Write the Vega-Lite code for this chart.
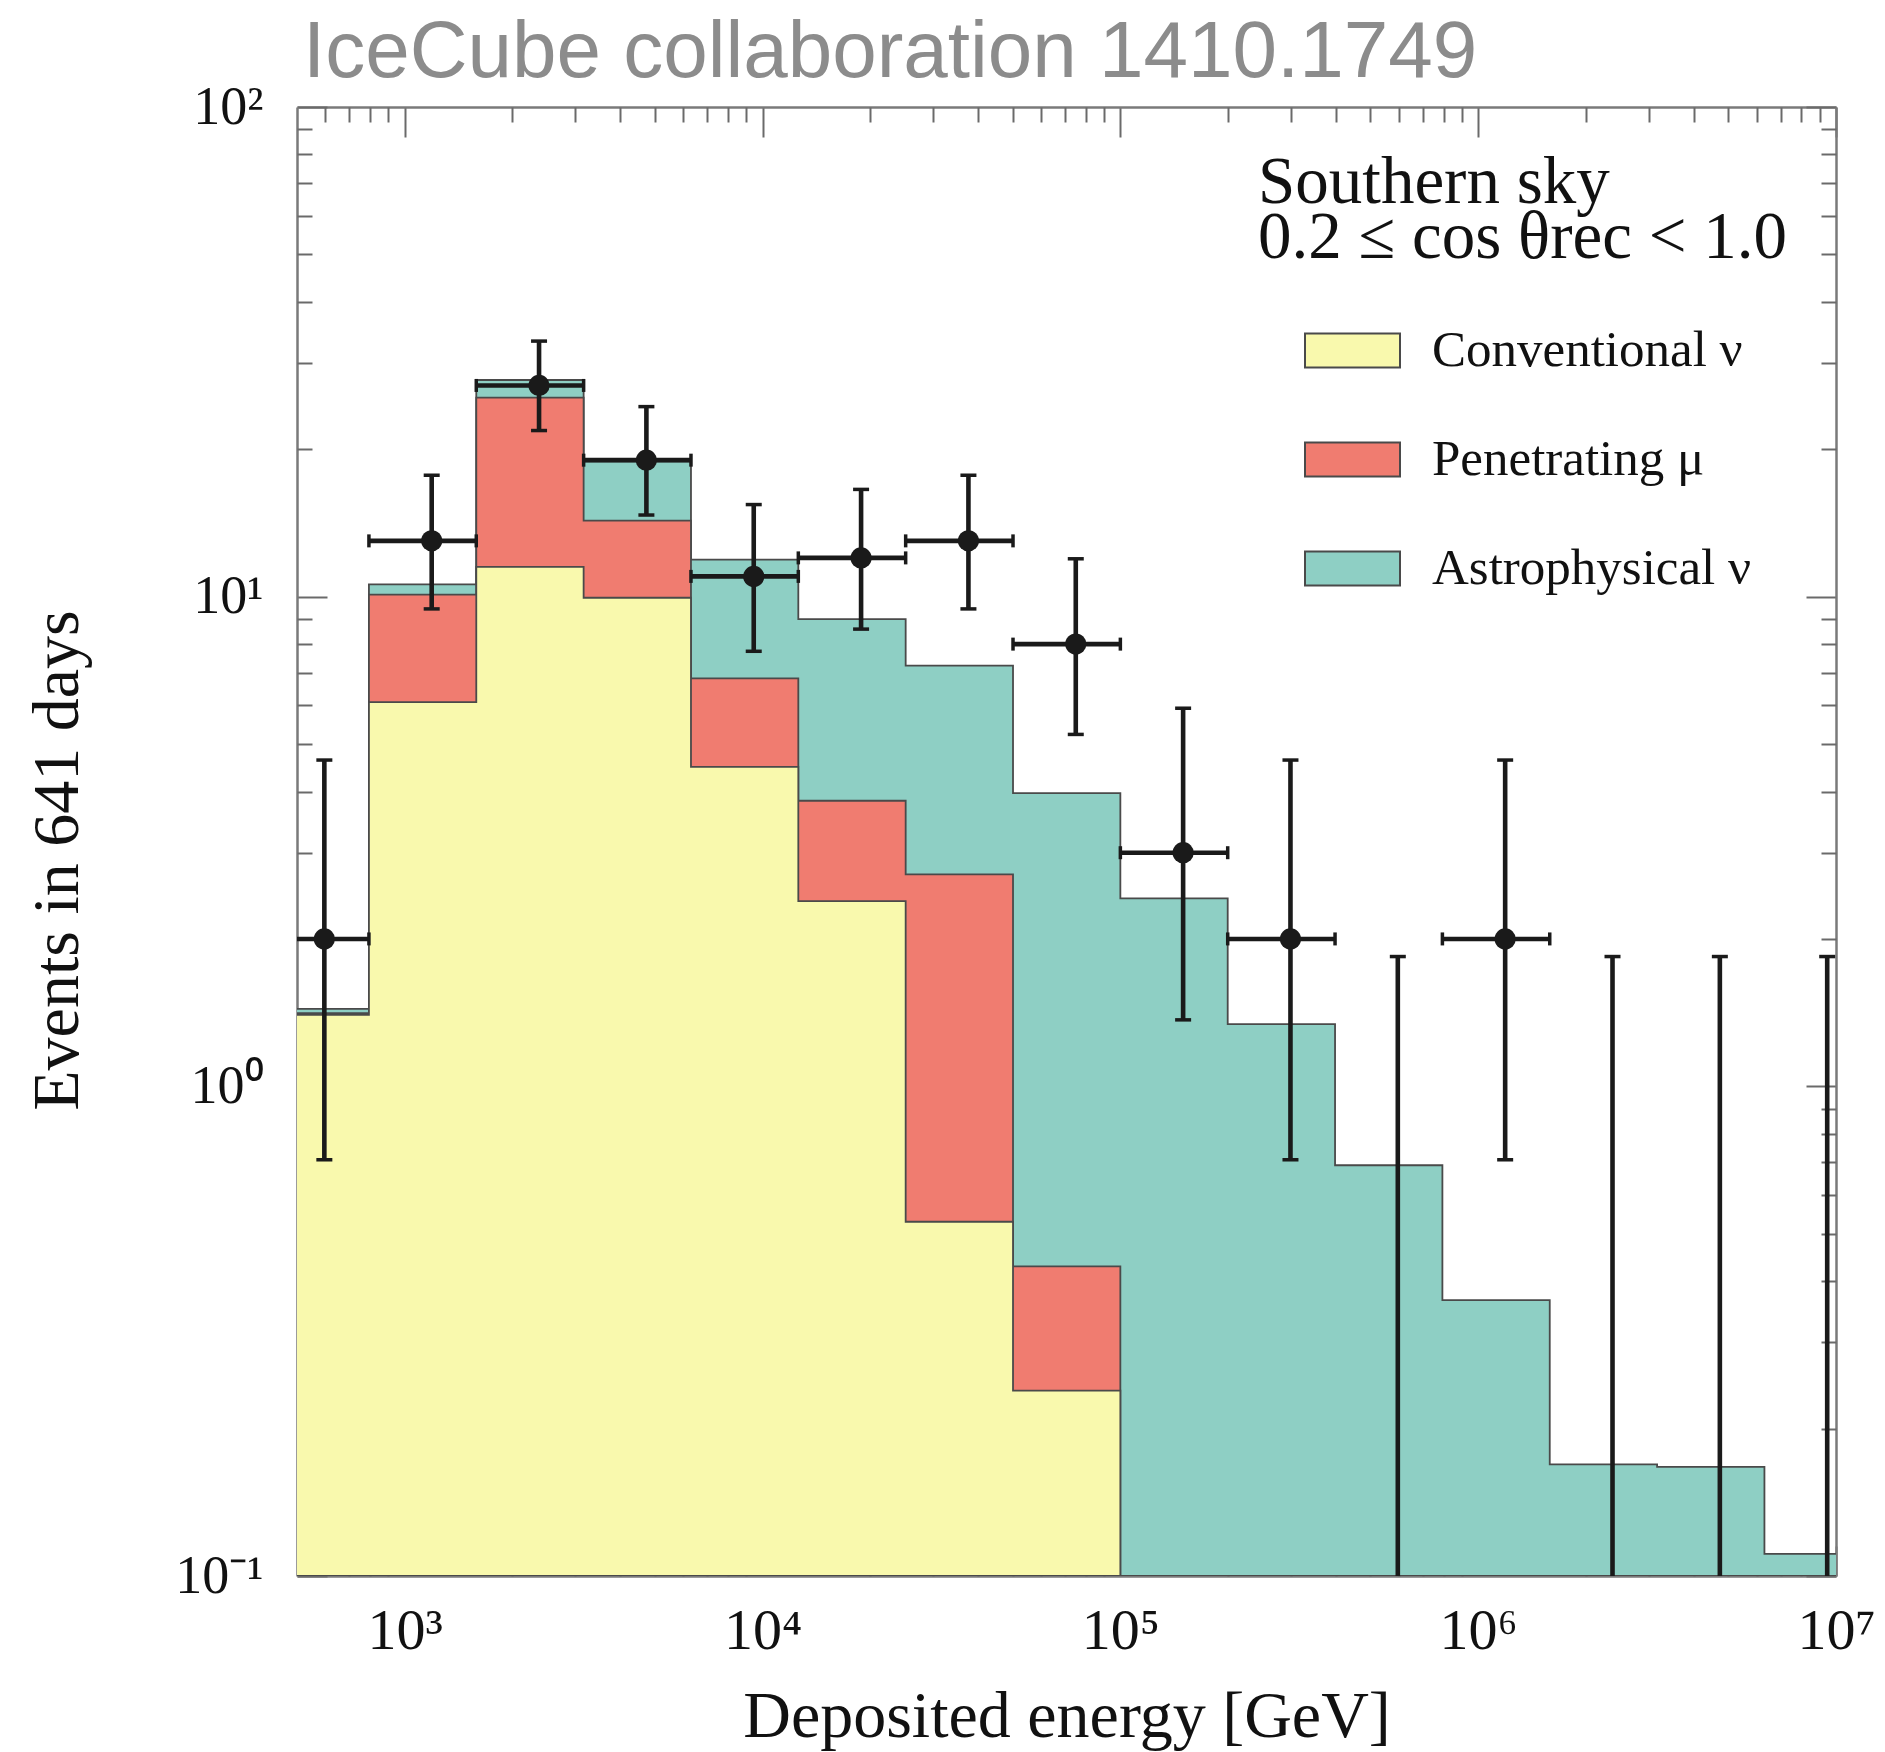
{
  "$schema": "https://vega.github.io/schema/vega-lite/v6.json",
  "autosize": {"type": "none"},
  "width": 1539,
  "height": 1469,
  "padding": {"left": 297, "top": 107, "right": 49, "bottom": 176},
  "background": "white",
  "title": {"text": "IceCube collaboration 1410.1749", "anchor": "start", "frame": "group", "font": "Liberation Sans", "fontSize": 80, "fontWeight": "normal", "color": "#8c8c8c", "baseline": "alphabetic", "offset": -77, "dx": 6},
  "datasets": {
    "hist": [
      {"E": 398.1, "series": "Astrophysical ν", "top": 1.44},
      {"E": 794.3, "series": "Astrophysical ν", "top": 10.6},
      {"E": 1584.9, "series": "Astrophysical ν", "top": 27.7},
      {"E": 3162.3, "series": "Astrophysical ν", "top": 18.9},
      {"E": 6309.6, "series": "Astrophysical ν", "top": 11.9},
      {"E": 12589, "series": "Astrophysical ν", "top": 9.0},
      {"E": 25119, "series": "Astrophysical ν", "top": 7.23},
      {"E": 50119, "series": "Astrophysical ν", "top": 3.97},
      {"E": 100000, "series": "Astrophysical ν", "top": 2.42},
      {"E": 199526, "series": "Astrophysical ν", "top": 1.34},
      {"E": 398107, "series": "Astrophysical ν", "top": 0.69},
      {"E": 794328, "series": "Astrophysical ν", "top": 0.366},
      {"E": 1584893, "series": "Astrophysical ν", "top": 0.169},
      {"E": 3162278, "series": "Astrophysical ν", "top": 0.167},
      {"E": 6309573, "series": "Astrophysical ν", "top": 0.111},
      {"E": 12589254, "series": "Astrophysical ν", "top": 0.111},
      {"E": 398.1, "series": "Penetrating μ", "top": 1.41},
      {"E": 794.3, "series": "Penetrating μ", "top": 10.1},
      {"E": 1584.9, "series": "Penetrating μ", "top": 25.5},
      {"E": 3162.3, "series": "Penetrating μ", "top": 14.3},
      {"E": 6309.6, "series": "Penetrating μ", "top": 6.81},
      {"E": 12589, "series": "Penetrating μ", "top": 3.83},
      {"E": 25119, "series": "Penetrating μ", "top": 2.71},
      {"E": 50119, "series": "Penetrating μ", "top": 0.429},
      {"E": 100000, "series": "Penetrating μ", "top": 0},
      {"E": 398.1, "series": "Conventional ν", "top": 1.40},
      {"E": 794.3, "series": "Conventional ν", "top": 6.09},
      {"E": 1584.9, "series": "Conventional ν", "top": 11.5},
      {"E": 3162.3, "series": "Conventional ν", "top": 9.95},
      {"E": 6309.6, "series": "Conventional ν", "top": 4.49},
      {"E": 12589, "series": "Conventional ν", "top": 2.39},
      {"E": 25119, "series": "Conventional ν", "top": 0.529},
      {"E": 50119, "series": "Conventional ν", "top": 0.239},
      {"E": 100000, "series": "Conventional ν", "top": 0}
    ],
    "obs": [
      {"m": 596.2, "elo": 398.1, "ehi": 794.3, "n": 2, "lo": 0.708, "hi": 4.638},
      {"m": 1189.6, "elo": 794.3, "ehi": 1584.9, "n": 13, "lo": 9.441, "hi": 17.70},
      {"m": 2373.6, "elo": 1584.9, "ehi": 3162.3, "n": 27, "lo": 21.84, "hi": 33.26},
      {"m": 4736, "elo": 3162.3, "ehi": 6309.6, "n": 19, "lo": 14.68, "hi": 24.44},
      {"m": 9449.5, "elo": 6309.6, "ehi": 12589, "n": 11, "lo": 7.735, "hi": 15.42},
      {"m": 18854, "elo": 12589, "ehi": 25119, "n": 12, "lo": 8.585, "hi": 16.56},
      {"m": 37619, "elo": 25119, "ehi": 50119, "n": 13, "lo": 9.441, "hi": 17.70},
      {"m": 75059, "elo": 50119, "ehi": 100000, "n": 8, "lo": 5.232, "hi": 11.95},
      {"m": 149763, "elo": 100000, "ehi": 199526, "n": 3, "lo": 1.367, "hi": 5.918},
      {"m": 298817, "elo": 199526, "ehi": 398107, "n": 2, "lo": 0.708, "hi": 4.638},
      {"m": 596218, "elo": 398107, "ehi": 794328, "n": 0, "lo": 0, "hi": 1.841},
      {"m": 1189611, "elo": 794328, "ehi": 1584893, "n": 2, "lo": 0.708, "hi": 4.638},
      {"m": 2373586, "elo": 1584893, "ehi": 3162278, "n": 0, "lo": 0, "hi": 1.841},
      {"m": 4735926, "elo": 3162278, "ehi": 6309573, "n": 0, "lo": 0, "hi": 1.841},
      {"m": 9449414, "elo": 6309573, "ehi": 12589254, "n": 0, "lo": 0, "hi": 1.841}
    ]
  },
  "layer": [
    {
      "data": {"name": "hist"},
      "transform": [{"filter": {"field": "series", "equal": "Astrophysical ν"}}],
      "mark": {"type": "area", "interpolate": "step-after", "stroke": "#4a4a4a", "strokeWidth": 1.8, "opacity": 1, "fillOpacity": 1, "clip": true},
      "encoding": {
        "x": {"field": "E", "type": "quantitative", "scale": {"type": "log", "domain": [500, 10000000], "nice": false},
          "axis": {"orient": "bottom", "values": [1000, 10000, 100000, 1000000, 10000000], "tickSize": -30, "labelPadding": 56, "labelFontSize": 58, "labelFlush": false,
            "labelExpr": "'10' + ['⁰','¹','²','³','⁴','⁵','⁶','⁷'][round(log(datum.value)/LN10)]",
            "title": "Deposited energy [GeV]", "titleFontSize": 66, "titleBaseline": "alphabetic", "titleY": 160, "domain": true}},
        "y": {"field": "top", "type": "quantitative", "scale": {"type": "log", "domain": [0.1, 100], "nice": false, "clamp": true},
          "axis": {"orient": "left", "values": [0.1, 1, 10, 100], "tickSize": -30, "labelPadding": 64, "labelFontSize": 54,
            "labelExpr": "datum.value < 0.5 ? '10⁻¹' : '10' + ['⁰','¹','²'][round(log(datum.value)/LN10)]",
            "title": "Events in 641 days", "titleFontSize": 66, "titleBaseline": "alphabetic", "titleAngle": 270, "titleX": -220, "titleY": 753, "domain": true}},
        "color": {"field": "series", "type": "nominal",
          "scale": {"domain": ["Conventional ν", "Penetrating μ", "Astrophysical ν"], "range": ["#f9f9ad", "#f07c70", "#8ecfc4"]},
          "legend": {"orient": "none", "legendX": 961, "legendY": 43, "padding": 0,
            "title": ["Southern sky", "0.2 ≤ cos θrec < 1.0"], "titleFont": "Liberation Serif", "titleFontSize": 67, "titleFontWeight": "normal", "titleLineHeight": 55, "titleColor": "#111111", "titlePadding": 30, "titleLimit": 1000,
            "labelFont": "Liberation Serif", "labelFontSize": 51, "labelColor": "#111111", "labelLimit": 1000, "labelOffset": 31,
            "symbolType": "M-1,-0.36H1V0.36H-1Z", "symbolSize": 9025, "symbolStrokeColor": "#444444", "symbolStrokeWidth": 2, "symbolOpacity": 1, "symbolOffset": 46, "rowPadding": 35}}
      }
    },
    {
      "data": {"name": "hist"},
      "transform": [{"filter": {"field": "series", "equal": "Penetrating μ"}}],
      "mark": {"type": "area", "interpolate": "step-after", "stroke": "#4a4a4a", "strokeWidth": 1.8, "opacity": 1, "fillOpacity": 1, "clip": true},
      "encoding": {
        "x": {"field": "E", "type": "quantitative", "scale": {"type": "log", "domain": [500, 10000000], "nice": false},
          "axis": {"orient": "bottom", "values": [600, 700, 800, 900, 2000, 3000, 4000, 5000, 6000, 7000, 8000, 9000, 20000, 30000, 40000, 50000, 60000, 70000, 80000, 90000, 200000, 300000, 400000, 500000, 600000, 700000, 800000, 900000, 2000000, 3000000, 4000000, 5000000, 6000000, 7000000, 8000000, 9000000], "tickSize": -15, "labels": false, "domain": false, "title": null}},
        "y": {"field": "top", "type": "quantitative", "scale": {"type": "log", "domain": [0.1, 100], "nice": false, "clamp": true},
          "axis": {"orient": "left", "values": [0.2, 0.3, 0.4, 0.5, 0.6, 0.7, 0.8, 0.9, 2, 3, 4, 5, 6, 7, 8, 9, 20, 30, 40, 50, 60, 70, 80, 90], "tickSize": -15, "labels": false, "domain": false, "title": null}},
        "color": {"field": "series", "type": "nominal",
          "scale": {"domain": ["Conventional ν", "Penetrating μ", "Astrophysical ν"], "range": ["#f9f9ad", "#f07c70", "#8ecfc4"]}}
      }
    },
    {
      "data": {"name": "hist"},
      "transform": [{"filter": {"field": "series", "equal": "Conventional ν"}}],
      "mark": {"type": "area", "interpolate": "step-after", "stroke": "#4a4a4a", "strokeWidth": 1.8, "opacity": 1, "fillOpacity": 1, "clip": true},
      "encoding": {
        "x": {"field": "E", "type": "quantitative", "scale": {"type": "log", "domain": [500, 10000000], "nice": false},
          "axis": {"orient": "top", "values": [1000, 10000, 100000, 1000000, 10000000], "tickSize": -30, "labels": false, "domain": true, "title": null}},
        "y": {"field": "top", "type": "quantitative", "scale": {"type": "log", "domain": [0.1, 100], "nice": false, "clamp": true},
          "axis": {"orient": "right", "values": [0.1, 1, 10, 100], "tickSize": -30, "labels": false, "domain": true, "title": null}},
        "color": {"field": "series", "type": "nominal",
          "scale": {"domain": ["Conventional ν", "Penetrating μ", "Astrophysical ν"], "range": ["#f9f9ad", "#f07c70", "#8ecfc4"]}}
      }
    },
    {
      "data": {"name": "obs"},
      "mark": {"type": "rule", "color": "#1a1a1a", "strokeWidth": 4.6, "clip": true},
      "encoding": {
        "x": {"field": "m", "type": "quantitative", "scale": {"type": "log", "domain": [500, 10000000], "nice": false},
          "axis": {"orient": "top", "values": [600, 700, 800, 900, 2000, 3000, 4000, 5000, 6000, 7000, 8000, 9000, 20000, 30000, 40000, 50000, 60000, 70000, 80000, 90000, 200000, 300000, 400000, 500000, 600000, 700000, 800000, 900000, 2000000, 3000000, 4000000, 5000000, 6000000, 7000000, 8000000, 9000000], "tickSize": -15, "labels": false, "domain": false, "title": null}},
        "y": {"field": "hi", "type": "quantitative", "scale": {"type": "log", "domain": [0.1, 100], "nice": false, "clamp": true},
          "axis": {"orient": "right", "values": [0.2, 0.3, 0.4, 0.5, 0.6, 0.7, 0.8, 0.9, 2, 3, 4, 5, 6, 7, 8, 9, 20, 30, 40, 50, 60, 70, 80, 90], "tickSize": -15, "labels": false, "domain": false, "title": null}},
        "y2": {"field": "lo"}
      }
    },
    {
      "data": {"name": "obs"},
      "transform": [{"filter": "datum.n > 0"}],
      "mark": {"type": "rule", "color": "#1a1a1a", "strokeWidth": 4.6, "clip": true},
      "encoding": {
        "x": {"field": "elo", "type": "quantitative", "scale": {"type": "log", "domain": [500, 10000000], "nice": false}, "axis": null},
        "x2": {"field": "ehi"},
        "y": {"field": "n", "type": "quantitative", "scale": {"type": "log", "domain": [0.1, 100], "nice": false, "clamp": true}, "axis": null}
      }
    },
    {
      "data": {"name": "obs"},
      "mark": {"type": "tick", "orient": "horizontal", "color": "#1a1a1a", "size": 16, "thickness": 3.5, "opacity": 1, "clip": true},
      "encoding": {
        "x": {"field": "m", "type": "quantitative", "scale": {"type": "log", "domain": [500, 10000000], "nice": false}, "axis": null},
        "y": {"field": "hi", "type": "quantitative", "scale": {"type": "log", "domain": [0.1, 100], "nice": false, "clamp": true}, "axis": null}
      }
    },
    {
      "data": {"name": "obs"},
      "transform": [{"filter": "datum.n > 0"}],
      "mark": {"type": "tick", "orient": "horizontal", "color": "#1a1a1a", "size": 16, "thickness": 3.5, "opacity": 1, "clip": true},
      "encoding": {
        "x": {"field": "m", "type": "quantitative", "scale": {"type": "log", "domain": [500, 10000000], "nice": false}, "axis": null},
        "y": {"field": "lo", "type": "quantitative", "scale": {"type": "log", "domain": [0.1, 100], "nice": false, "clamp": true}, "axis": null}
      }
    },
    {
      "data": {"name": "obs"},
      "transform": [{"filter": "datum.n > 0"}],
      "mark": {"type": "tick", "orient": "vertical", "color": "#1a1a1a", "size": 13, "thickness": 3.5, "opacity": 1, "clip": true},
      "encoding": {
        "x": {"field": "elo", "type": "quantitative", "scale": {"type": "log", "domain": [500, 10000000], "nice": false}, "axis": null},
        "y": {"field": "n", "type": "quantitative", "scale": {"type": "log", "domain": [0.1, 100], "nice": false, "clamp": true}, "axis": null}
      }
    },
    {
      "data": {"name": "obs"},
      "transform": [{"filter": "datum.n > 0"}],
      "mark": {"type": "tick", "orient": "vertical", "color": "#1a1a1a", "size": 13, "thickness": 3.5, "opacity": 1, "clip": true},
      "encoding": {
        "x": {"field": "ehi", "type": "quantitative", "scale": {"type": "log", "domain": [500, 10000000], "nice": false}, "axis": null},
        "y": {"field": "n", "type": "quantitative", "scale": {"type": "log", "domain": [0.1, 100], "nice": false, "clamp": true}, "axis": null}
      }
    },
    {
      "data": {"name": "obs"},
      "transform": [{"filter": "datum.n > 0"}],
      "mark": {"type": "point", "shape": "circle", "filled": true, "size": 450, "color": "#1a1a1a", "opacity": 1, "clip": true},
      "encoding": {
        "x": {"field": "m", "type": "quantitative", "scale": {"type": "log", "domain": [500, 10000000], "nice": false}, "axis": null},
        "y": {"field": "n", "type": "quantitative", "scale": {"type": "log", "domain": [0.1, 100], "nice": false, "clamp": true}, "axis": null}
      }
    }
  ],
  "resolve": {"axis": {"x": "independent", "y": "independent"}},
  "config": {
    "view": {"stroke": null},
    "axis": {"grid": false, "domainColor": "#7a7a7a", "domainWidth": 2.5, "tickColor": "#6a6a6a", "tickWidth": 2, "labelFont": "Liberation Serif", "labelColor": "#111111", "titleFont": "Liberation Serif", "titleFontWeight": "normal", "titleColor": "#111111", "labelFlush": false, "labelOverlap": false}
  }
}
